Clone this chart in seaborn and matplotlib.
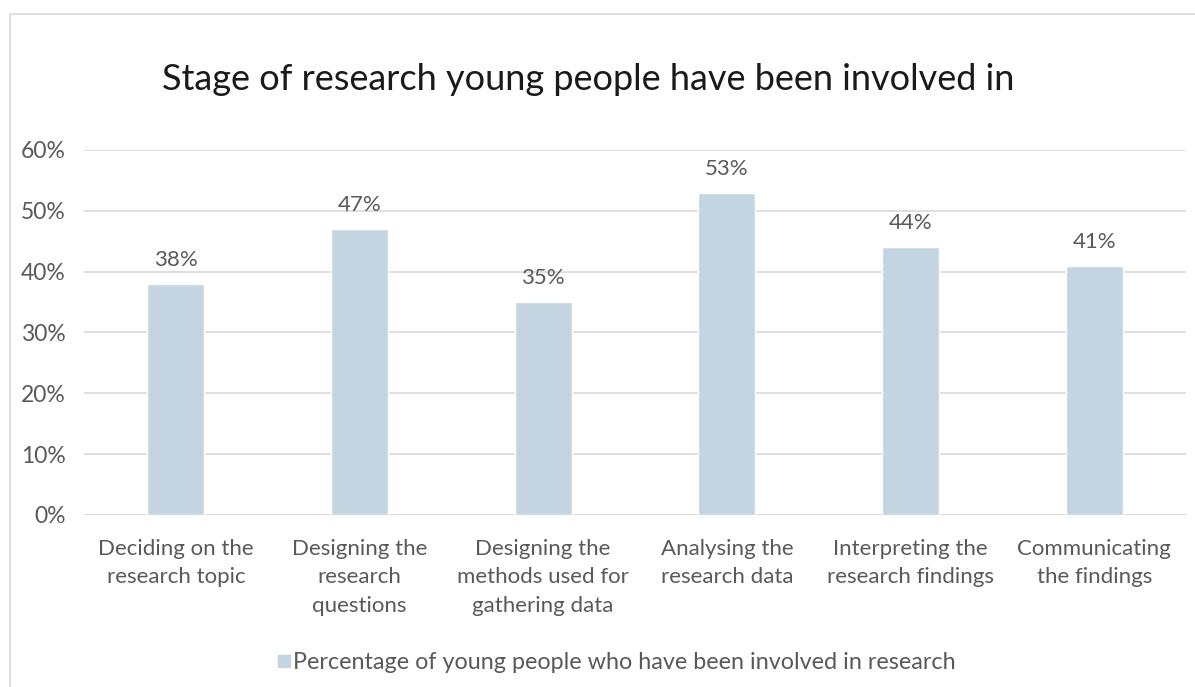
import matplotlib
matplotlib.use("Agg")
import matplotlib.pyplot as plt
import seaborn as sns
import pandas as pd
from matplotlib.lines import Line2D

categories = [
    "Deciding on the\nresearch topic",
    "Designing the\nresearch\nquestions",
    "Designing the\nmethods used for\ngathering data",
    "Analysing the\nresearch data",
    "Interpreting the\nresearch findings",
    "Communicating\nthe findings",
]
values = [0.38, 0.47, 0.35, 0.53, 0.44, 0.41]
yticks = [0.0, 0.1, 0.2, 0.3, 0.4, 0.5, 0.6]
ytick_labels = ["0%", "10%", "20%", "30%", "40%", "50%", "60%"]
series_name = "Percentage of young people who have been involved in research"
title = "Stage of research young people have been involved in"

sns.set_theme(style="white")
plt.rcParams["font.family"] = ["Lato", "DejaVu Sans"]

bar_color = "#C3D5E0"
text_gray = "#595959"

df = pd.DataFrame({"stage": categories, "value": values})

fig = plt.figure(figsize=(11.95, 6.87), dpi=100)
ax = fig.add_axes([0.0703, 0.2504, 0.9222, 0.5313])

sns.barplot(data=df, x="stage", y="value", color=bar_color, width=0.31,
            saturation=1, ax=ax, zorder=3)

ax.set_ylim(0, 0.6)
ax.set_yticks(yticks)
ax.set_yticklabels(ytick_labels, color=text_gray, fontsize=16.5)
ax.yaxis.grid(True, color="#D9D9D9", linewidth=1.2, zorder=0)
ax.set_axisbelow(True)
for s in ["top", "right", "left", "bottom"]:
    ax.spines[s].set_visible(False)
ax.axhline(0, color="#D9D9D9", linewidth=1.2, zorder=1)
ax.tick_params(axis="y", length=0, pad=13)
ax.tick_params(axis="x", length=0, pad=17)
ax.set_xlabel("")
ax.set_ylabel("")
for lbl in ax.get_xticklabels():
    lbl.set_color(text_gray)
    lbl.set_fontsize(16)
    lbl.set_linespacing(1.55)

for i, v in enumerate(values):
    ax.annotate(f"{round(v*100)}%", (i, v), xytext=(0, 10), textcoords="offset points",
                ha="center", va="bottom", fontsize=16, color=text_gray)

fig.text(0.4925, 0.885, title, ha="center", va="center", fontsize=26, color="#1a1a1a")

handle = Line2D([], [], marker="s", linestyle="", markersize=8,
                markerfacecolor=bar_color, markeredgecolor=bar_color)
fig.legend([handle], [series_name], loc="center", bbox_to_anchor=(0.515, 0.036),
           frameon=False, fontsize=16.8, labelcolor=text_gray, handletextpad=0.0,
           handlelength=0.8)

# outer frame (top and left border)
fig.add_artist(Line2D([0.0084, 1.0], [0.98, 0.98], transform=fig.transFigure,
                      color="#D9D9D9", linewidth=1.2))
fig.add_artist(Line2D([0.0084, 0.0084], [0.0, 0.98], transform=fig.transFigure,
                      color="#D9D9D9", linewidth=1.2))

fig.savefig("out.png", dpi=100, facecolor="white")
